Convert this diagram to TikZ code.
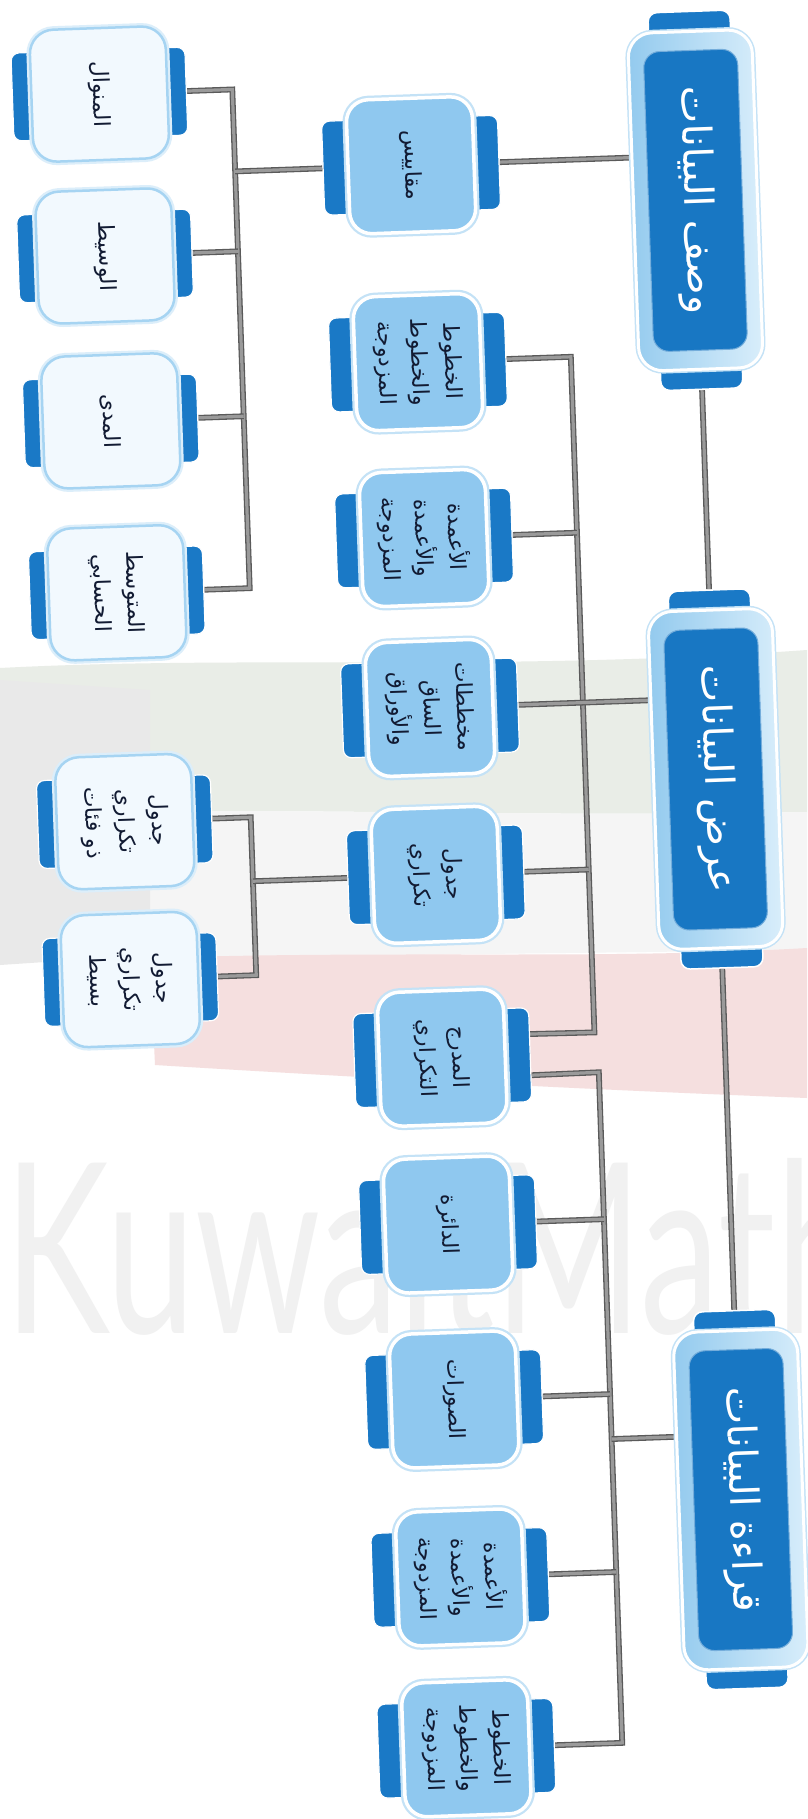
\documentclass[tikz,border=0pt]{standalone}
\usepackage{graphicx}
\usepackage{fontspec}
\newfontfamily\arabicfont[Script=Arabic]{DejaVu Sans}
\newfontfamily\wmfont{Lato}
\TeXXeTstate=1
\pgfdeclarelayer{back}
\pgfdeclarelayer{lines}
\pgfsetlayers{back,lines,main}
\definecolor{capblue}{HTML}{1A79C6}
\definecolor{innerblue}{HTML}{1877C3}
\definecolor{frameL}{HTML}{93CAEE}
\definecolor{frameR}{HTML}{D9EEFB}
\definecolor{midfill}{HTML}{8FC8EF}
\definecolor{glow}{HTML}{C4E2F6}
\definecolor{leftfill}{HTML}{F2F9FE}
\definecolor{leftedge}{HTML}{A6D4F2}
\definecolor{txt}{HTML}{121B33}
\definecolor{flaggreen}{HTML}{E9EDE7}
\definecolor{flaggray}{HTML}{E9E9E9}
\definecolor{flagred}{HTML}{F5DFDF}
\definecolor{hatch}{HTML}{F5F5F5}
\definecolor{wm}{HTML}{F1F1F1}
\definecolor{lineouter}{HTML}{5A5A5A}
\definecolor{lineinner}{HTML}{9A9A9A}

\newcommand{\mainnode}[3]{%
  \node[maincap] (#1top) at (720,#2-169) {};
  \node[maincap] (#1bot) at (720,#2+169) {};
  \node[mainframe] (#1) at (720,#2) {};
  \node[maininner] (#1in) at (720,#2) {};
  \node[maintext] (#1txt) at (720,#2) {#3};
}
\newcommand{\midnode}[3]{%
  \node[midcap] (#1L) at (369,#2) {};
  \node[midcap] (#1R) at (505,#2) {};
  \node[midbox] (#1) at (437,#2) {};
  \node[subtext] (#1txt) at (437,#2) {#3};
}
\newcommand{\leftnode}[3]{%
  \node[leftcap] (#1L) at (61,#2) {};
  \node[leftcap] (#1R) at (195,#2) {};
  \node[leftbox] (#1) at (128,#2) {};
  \node[subtext] (#1txt) at (128,#2) {#3};
}

\begin{document}
\begin{tikzpicture}[x=1pt,y=-1pt,
  conn/.style={draw=lineouter, double=lineinner, double distance=3.2pt, line width=1.3pt},
  maincap/.style={rectangle, rounded corners=9pt, fill=capblue, draw=white, line width=1.5pt,
    minimum width=82pt, minimum height=40pt, inner sep=0pt},
  mainframe/.style={rectangle, rounded corners=24pt, minimum width=124pt, minimum height=338pt,
    draw=white, line width=3pt, left color=frameL, right color=frameR, inner sep=0pt,
    preaction={draw=glow, line width=6pt}},
  maininner/.style={rectangle, rounded corners=16pt, minimum width=94pt, minimum height=300pt,
    fill=innerblue, draw=innerblue!60!white, line width=1pt, inner sep=0pt},
  maintext/.style={rotate=-90, text=white, font=\arabicfont\fontsize{40}{48}\selectfont, inner sep=0pt},
  midcap/.style={rectangle, rounded corners=8pt, fill=capblue, draw=white, line width=1.2pt,
    minimum width=40pt, minimum height=94pt, inner sep=0pt},
  leftcap/.style={midcap, minimum height=88pt},
  midbox/.style={rectangle, rounded corners=22pt, minimum width=126pt, minimum height=134pt,
    fill=midfill, draw=white, line width=3.5pt, inner sep=0pt,
    preaction={draw=glow, line width=8pt}},
  leftbox/.style={rectangle, rounded corners=24pt, minimum width=136pt, minimum height=132pt,
    fill=leftfill, draw=leftedge, line width=2.5pt, inner sep=0pt,
    preaction={draw=glow!60!white, line width=7pt}},
  subtext/.style={rotate=-90, align=center, text=txt, font=\arabicfont\fontsize{22}{33}\selectfont, inner sep=0pt}
]
\useasboundingbox (0,0) rectangle (807,1819);

\begin{pgfonlayer}{back}
  \fill[white] (0,0) rectangle (807,1819);
  % faint background (faded flag and watermark)
  \fill[flaggreen] (0,668) .. controls (250,655) and (500,672) .. (807,650) -- (807,812) .. controls (500,818) and (250,805) .. (0,815) -- cycle;
  \fill[hatch] (0,815) .. controls (250,805) and (500,818) .. (807,812) -- (807,950) -- (0,960) -- cycle;
  \fill[flaggray] (0,680) -- (150,690) -- (150,955) -- (0,965) -- cycle;
  \fill[flagred] (150,958) .. controls (400,950) and (600,960) .. (807,948) -- (807,1098) .. controls (600,1090) and (400,1080) .. (155,1065) -- cycle;
  \node[anchor=south west, inner sep=0pt, text=wm] (wmk) at (4,1336) {\resizebox{860pt}{175pt}{\wmfont KuwaitMath}};
\end{pgfonlayer}

\begin{scope}[rotate around={2:(403,909)}, transform shape]
  % main nodes
  \mainnode{A}{211}{\beginR وصف البيانات\endR}
  \mainnode{B}{790}{\beginR عرض البيانات\endR}
  \mainnode{C}{1511}{\beginR قراءة البيانات\endR}

  % middle column
  \midnode{m1}{166}{\beginR مقاييس\endR}
  \midnode{m2}{363}{\beginR الخطوط\endR\\\beginR والخطوط\endR\\\beginR المزدوجة\endR}
  \midnode{m3}{539}{\beginR الأعمدة\endR\\\beginR والأعمدة\endR\\\beginR المزدوجة\endR}
  \midnode{m4}{709}{\beginR مخططات\endR\\\beginR الساق\endR\\\beginR والأوراق\endR}
  \midnode{m5}{876}{\beginR جدول\endR\\\beginR تكراري\endR}
  \midnode{m6}{1059}{\beginR المدرج\endR\\\beginR التكراري\endR}
  \midnode{m7}{1226}{\beginR الدائرة\endR}
  \midnode{m8}{1401}{\beginR الصورات\endR}
  \midnode{m9}{1579}{\beginR الأعمدة\endR\\\beginR والأعمدة\endR\\\beginR المزدوجة\endR}
  \midnode{m10}{1750}{\beginR الخطوط\endR\\\beginR والخطوط\endR\\\beginR المزدوجة\endR}

  % left column
  \leftnode{l1}{84}{\beginR المنوال\endR}
  \leftnode{l2}{246}{\beginR الوسيط\endR}
  \leftnode{l3}{411}{\beginR المدى\endR}
  \leftnode{l4}{583}{\beginR المتوسط\endR\\\beginR الحسابي\endR}
  \leftnode{l5}{812}{\beginR جدول\endR\\\beginR تكراري\endR\\\beginR ذو فئات\endR}
  \leftnode{l6}{970}{\beginR جدول\endR\\\beginR تكراري\endR\\\beginR بسيط\endR}

  % junction coordinates
  \coordinate (j11) at (261,84);
  \coordinate (j12) at (261,246);
  \coordinate (j13) at (261,411);
  \coordinate (j14) at (261,583);
  \coordinate (j1m) at (261,166);
  \coordinate (aIn) at (662,166);
  \coordinate (j25) at (254,812);
  \coordinate (j26) at (254,970);
  \coordinate (j2m) at (254,876);
  \coordinate (jB2) at (590,363);
  \coordinate (jB3) at (590,539);
  \coordinate (jB5) at (590,876);
  \coordinate (jB6) at (590,1039);
  \coordinate (bIn) at (662,709);
  \coordinate (jC6) at (593,1079);
  \coordinate (jC7) at (593,1226);
  \coordinate (jC8) at (593,1401);
  \coordinate (jC9) at (593,1579);
  \coordinate (jC10) at (593,1750);
  \coordinate (jCc) at (593,1446);
  \coordinate (cIn) at (662,1446);

  \begin{pgfonlayer}{lines}
    \draw[conn] (l1R.east) -- (j11) -- (j14) -- (l4R.east);
    \draw[conn] (l2R.east) -- (j12);
    \draw[conn] (l3R.east) -- (j13);
    \draw[conn] (j1m) -- (m1L.west);
    \draw[conn] (m1R.east) -- (aIn);
    \draw[conn] (Abot.south) -- (Btop.north);
    \draw[conn] (Bbot.south) -- (Ctop.north);
    \draw[conn] (l5R.east) -- (j25) -- (j26) -- (l6R.east);
    \draw[conn] (j2m) -- (m5L.west);
    \draw[conn] (m2R.east) -- (jB2) -- (jB6) -- (m6R.45);
    \draw[conn] (m3R.east) -- (jB3);
    \draw[conn] (m4R.east) -- (bIn);
    \draw[conn] (m5R.east) -- (jB5);
    \draw[conn] (m6R.-45) -- (jC6) -- (jC10) -- (m10R.east);
    \draw[conn] (m7R.east) -- (jC7);
    \draw[conn] (m8R.east) -- (jC8);
    \draw[conn] (m9R.east) -- (jC9);
    \draw[conn] (jCc) -- (cIn);
  \end{pgfonlayer}
\end{scope}
\end{tikzpicture}
\end{document}
